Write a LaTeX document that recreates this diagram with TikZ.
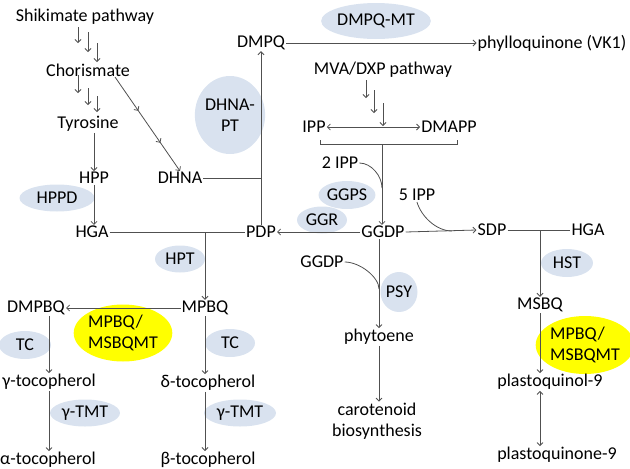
\documentclass[tikz,border=0pt]{standalone}
\usepackage{fontspec}
\setmainfont{Carlito}
\usetikzlibrary{arrows.meta,shapes.geometric,decorations.markings}
\definecolor{enzblue}{RGB}{217,226,239}
\definecolor{enzyellow}{RGB}{255,255,0}
\definecolor{linegray}{RGB}{80,80,80}

\begin{document}
\begin{tikzpicture}[x=1pt,y=-1pt,
    >={Straight Barb[length=3pt,width=6pt]},
    every node/.style={font=\fontsize{18}{21}\selectfont, inner sep=1pt},
    enz/.style={ellipse, fill=enzblue, inner sep=0pt},
    mt/.style={ellipse, fill=enzyellow, inner sep=0pt, align=left},
    conn/.style={draw=linegray, line width=0.8pt},
    arr/.style={conn, ->},
    midarr/.style={postaction={decorate}, decoration={markings,
        mark=at position 0.36 with {\arrow{>}},
        mark=at position 0.70 with {\arrow{>}}}}]
  \useasboundingbox (0,0) rectangle (630,469);

  % Enzymes
  \node[enz, minimum width=75, minimum height=27] (hppd) at (57,198) {HPPD};
  \node[enz, minimum width=54, minimum height=78, align=center] (dhnapt) at (230,115) {DHNA-\\PT};
  \node[enz, minimum width=100, minimum height=36] (dmpqmt) at (376,21) {DMPQ-MT};
  \node[enz, minimum width=55, minimum height=28] (ggps) at (347,195) {GGPS};
  \node[enz, minimum width=50, minimum height=27] (ggr) at (322,220) {GGR};
  \node[enz, minimum width=50, minimum height=27] (hpt) at (180,259) {HPT};
  \node[enz, minimum width=36, minimum height=40] (psy) at (399,292) {PSY};
  \node[enz, minimum width=52, minimum height=28] (hst) at (567,263) {HST};
  \node[enz, minimum width=52, minimum height=28] (tcl) at (25,345) {TC};
  \node[enz, minimum width=50, minimum height=28] (tcr) at (230,343) {TC};
  \node[enz, minimum width=70, minimum height=27] (tmtl) at (85,413) {γ-TMT};
  \node[enz, minimum width=72, minimum height=27] (tmtr) at (240,413) {γ-TMT};
  \node[mt, minimum width=87, minimum height=57] (mtl) at (123,333) {MPBQ/\\MSBQMT};
  \node[mt, minimum width=88, minimum height=58] (mtr) at (585,345) {MPBQ/\\MSBQMT};

  % Metabolites
  \node (shik) at (85,17) {Shikimate pathway};
  \node (chor) at (88,70) {Chorismate};
  \node (tyr) at (88,124) {Tyrosine};
  \node (hpp) at (94,178) {HPP};
  \node (hga) at (92,232) {HGA};
  \node (dhna) at (180,178) {DHNA};
  \node (dmpq) at (261,43) {DMPQ};
  \node (phyl) at (552,43) {phylloquinone (VK1)};
  \node (mva) at (383,70) {MVA/DXP pathway};
  \node (ipp) at (314,127) {IPP};
  \node (dmapp) at (449,127) {DMAPP};
  \node (ipp2) at (340,163) {2 IPP};
  \node (ipp5) at (417,195) {5 IPP};
  \node (ggdp) at (383,232) {GGDP};
  \node (pdp) at (261,232) {PDP};
  \node (sdp) at (492,230) {SDP};
  \node (hgar) at (588,230) {HGA};
  \node (ggdpb) at (322,262) {GGDP};
  \node (phyt) at (379,337) {phytoene};
  \node[align=center] (carot) at (377,421) {carotenoid\\biosynthesis};
  \node (msbq) at (540,305) {MSBQ};
  \node (pql) at (550,382) {plastoquinol-9};
  \node (pqn) at (557,455) {plastoquinone-9};
  \node (mpbq) at (205,308) {MPBQ};
  \node (dmpbq) at (36,308) {DMPBQ};
  \node (gtoc) at (49,382) {γ-tocopherol};
  \node (dtoc) at (208,383) {δ-tocopherol};
  \node (atoc) at (48,460) {α-tocopherol};
  \node (btoc) at (208,460) {β-tocopherol};

  % Junctions
  \coordinate (bl) at (320,144);
  \coordinate (br) at (457,144);
  \coordinate (m2) at (382,188);
  \coordinate (m5) at (452,231);
  \coordinate (m3) at (379,289);

  % Shikimate branch
  \foreach \dx/\dy/\l in {-7/10/16, 3/15/20, 12/26/19}
    \draw[arr] ([shift={(\dx,\dy)}]shik.center) -- ++(0,\l);
  \foreach \dx/\dy/\l in {-10/5/18, 0/18/17, 9/26/16}
    \draw[arr] ([shift={(\dx,\dy)}]chor.center) -- ++(0,\l);
  \draw[arr] (hpp.north |- tyr.south) -- (hpp.north);
  \draw[arr] (hpp.south) -- (hpp.south |- hga.north);
  \draw[arr, midarr] ([shift={(27,7)}]chor.center) -- (dhna.north);

  % Phylloquinone branch
  \draw[conn] (dhna.east) -- (dhna.east -| pdp.north);
  \draw[arr] (pdp.north) -- (pdp.north |- dmpq.south);
  \draw[arr] (dmpq.east) -- (phyl.west);

  % MVA/DXP branch
  \foreach \dx/\dy/\l in {-17/10/18, -9/20/23, 0/33/23}
    \draw[arr] ([shift={(\dx,\dy)}]mva.center) -- ++(0,\l);
  \draw[conn, <->] (ipp.east) -- (dmapp.west);
  \draw[conn] ([yshift=4pt]bl) -- (bl) -- (br) -- ([yshift=4pt]br);
  \draw[arr] (bl -| m2) -- (m2 |- ggdp.north);
  \draw[conn] (ipp2.east) .. controls +(12,0) and +(0,-12) .. (m2);
  \draw[conn] (ipp5.south) .. controls +(4,14) and +(-16,0) .. (m5);
  \draw[arr] (ggdp.west) -- (pdp.east);
  \draw[arr] (ggdp.east) -- (sdp.west);

  % Carotenoids
  \draw[arr] (phyt.north |- ggdp.south) -- (phyt.north);
  \draw[conn] (ggdpb.east) .. controls +(15,0) and +(0,-12) .. (m3);
  \draw[arr] (phyt.south) -- (phyt.south |- carot.north);

  % Tocopherols
  \draw[conn] (hga.east) -- (pdp.west);
  \draw[arr] (hga.east -| mpbq.north) -- (mpbq.north);
  \draw[arr] (mpbq.west) -- (dmpbq.east);
  \draw[arr] (gtoc.north |- dmpbq.south) -- (gtoc.north);
  \draw[arr] (gtoc.south) -- (gtoc.south |- atoc.north);
  \draw[arr] (mpbq.south) -- (mpbq.south |- dtoc.north);
  \draw[arr] (mpbq.south |- dtoc.south) -- (mpbq.south |- btoc.north);

  % Plastoquinone
  \draw[conn] (sdp.east) -- (hgar.west);
  \draw[arr] (sdp.east -| msbq.north) -- (msbq.north);
  \draw[arr] (msbq.south) -- (msbq.south |- pql.north);
  \draw[conn, <->] (msbq.south |- pql.south) -- (msbq.south |- pqn.north);
\end{tikzpicture}
\end{document}
